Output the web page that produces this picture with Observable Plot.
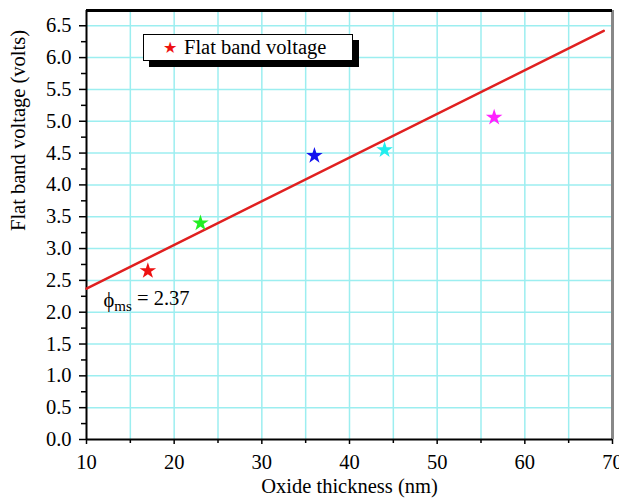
<!DOCTYPE html>
<html>
<head>
<meta charset="utf-8">
<script src="https://cdn.jsdelivr.net/npm/d3@7"></script>
<script src="https://cdn.jsdelivr.net/npm/@observablehq/plot@0.6"></script>
<style>
  html, body { margin: 0; padding: 0; background: #fff; }
  #wrap { position: relative; width: 619px; height: 501px; font-family: "Liberation Serif", "Times New Roman", serif; }
  #legend { position: absolute; left: 143px; top: 34px; width: 208px; height: 25px; background: #fff;
            border: 1.5px solid #000; box-shadow: 6px 6px 0 #000; display: flex; align-items: center;
            font-size: 20.5px; color: #000; }
  #legend .star { color: #ee1111; font-size: 16px; margin-left: 19px; margin-right: 7px; line-height: 1; }
</style>
</head>
<body>
<div id="wrap"><div id="legend"><span class="star">★</span><span>Flat band voltage</span></div></div>
<script>
// Data
const thickness = [17, 23, 36, 44, 56.5];           // nm
const voltage   = [2.65, 3.40, 4.46, 4.55, 5.06];   // V
const pointColors = ["#ee1111", "#22ee22", "#1414ee", "#22eeee", "#ff22ff"];
const fitX = [10, 69];
const fitY = [2.37, 6.42];
const xMajor = [10, 20, 30, 40, 50, 60, 70];
const xMinor = [15, 25, 35, 45, 55, 65];
const yMajor = [0, 0.5, 1, 1.5, 2, 2.5, 3, 3.5, 4, 4.5, 5, 5.5, 6, 6.5];
const yMinor = [0.25, 0.75, 1.25, 1.75, 2.25, 2.75, 3.25, 3.75, 4.25, 4.75, 5.25, 5.75, 6.25];
const xGrid = [15, 20, 25, 30, 35, 40, 45, 50, 55, 60, 65];
const yGrid = [0.5, 1, 1.5, 2, 2.5, 3, 3.5, 4, 4.5, 5, 5.5, 6, 6.5];
const xLabel = "Oxide thickness (nm)";
const yLabel = "Flat band voltage (volts)";
const annotText = "ϕms = 2.37";
const annotPos = [11.94, 2.19];

const points = thickness.map((x, i) => ({x, y: voltage[i], c: pointColors[i]}));
const fit = fitX.map((x, i) => ({x, y: fitY[i]}));

const gridColor = "#9ceef0";
const fontSize = "20.5px";
const fontFamily = "'Liberation Serif', 'Times New Roman', serif";

const plot = Plot.plot({
  width: 619,
  height: 501,
  marginLeft: 86,
  marginRight: 7,
  marginTop: 10,
  marginBottom: 62,
  style: {fontFamily, fontSize, color: "#000", background: "transparent"},
  x: {domain: [10, 70]},
  y: {domain: [0, 6.74]},
  marks: [
    Plot.ruleX(xGrid, {stroke: gridColor, strokeWidth: 1.5}),
    Plot.ruleY(yGrid, {stroke: gridColor, strokeWidth: 1.5}),
    Plot.axisX({ticks: xMajor, tickSize: 5, tickPadding: 10, tickFormat: d => String(d), fontSize, fontFamily, strokeWidth: 1.5, label: null}),
    Plot.axisX({ticks: xMinor, tickSize: 4, tickFormat: null, text: null, strokeWidth: 1.5, label: null}),
    Plot.axisY({ticks: yMajor, tickSize: 7, tickPadding: 8, tickFormat: d => d.toFixed(1), fontSize, fontFamily, strokeWidth: 1.5, label: null}),
    Plot.axisY({ticks: yMinor, tickSize: 5, tickFormat: null, text: null, strokeWidth: 1.5, label: null}),
    Plot.ruleX([70], {stroke: "#888", strokeWidth: 3}),
    Plot.ruleY([6.74], {stroke: "#000", strokeWidth: 3}),
    Plot.ruleY([0], {stroke: "#000", strokeWidth: 2}),
    Plot.ruleX([10], {stroke: "#000", strokeWidth: 2}),
    Plot.line(fit, {x: "x", y: "y", stroke: "#e02020", strokeWidth: 2.5}),
    Plot.dot(points, {x: "x", y: "y", symbol: "star", r: 5.2, fill: "c", stroke: "none"}),
    Plot.text([annotText], {x: () => annotPos[0], y: () => annotPos[1], text: d => d, textAnchor: "start", fontSize, fontFamily, fill: "#000"}),
    Plot.text([xLabel], {frameAnchor: "bottom", text: d => d, dy: 53, fontSize, fontFamily, fill: "#000"}),
    Plot.text([yLabel], {frameAnchor: "left", text: d => d, rotate: -90, dx: -68, dy: 6, fontSize, fontFamily, fill: "#000"})
  ]
});

// subscript for the annotation
d3.select(plot).selectAll("text").filter(function() { return this.textContent === annotText; })
  .each(function() {
    const t = d3.select(this);
    t.text("");
    t.append("tspan").text("ϕ");
    t.append("tspan").attr("dy", "0.3em").attr("font-size", "15px").text("ms");
    t.append("tspan").attr("dy", "-0.3em").text(" = 2.37");
  });

document.getElementById("wrap").prepend(plot);
plot.style.position = "absolute";
plot.style.left = "0";
plot.style.top = "0";
document.getElementById("legend").style.zIndex = 2;
</script>
</body>
</html>
